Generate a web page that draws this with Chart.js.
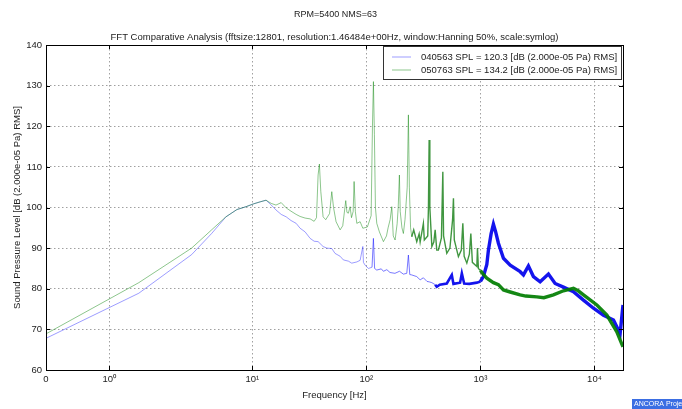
<!DOCTYPE html>
<html>
<head>
<meta charset="utf-8">
<script src="https://cdn.jsdelivr.net/npm/chart.js@4/dist/chart.umd.min.js"></script>
<style>
  html, body { margin: 0; padding: 0; background: #fff; }
  #wrap { width: 682px; height: 409px; position: relative; }
</style>
</head>
<body>
<div id="wrap"><canvas id="myChart" width="682" height="409"></canvas></div>
<script>
// chart data
const suptitle = "RPM=5400 NMS=63"
const subtitle = "FFT Comparative Analysis (fftsize:12801, resolution:1.46484e+00Hz, window:Hanning 50%, scale:symlog)"
const xTicks = [0, 1, 10, 100, 1000, 10000]
const xTickLabels = ["0", "10⁰", "10¹", "10²", "10³", "10⁴"]

const blueName = "040563 SPL = 120.3 [dB (2.000e-05 Pa) RMS]"
const blueFreq = [
  0, 1.465, 2.93, 4.39, 5.86, 7.32, 8.79, 10.25, 11.72, 13.18,
  14.65, 16.1, 17.9, 19.8, 21.8, 24.2, 26.2, 29.0, 32.1, 34.8,
  37.7, 41.7, 45, 49.7, 53.1, 58.8, 62.8, 69.5, 74.4, 82.4,
  88.1, 93.0, 94.2, 97.4, 104.2, 112, 115.2, 118, 123.3, 135,
  141, 151, 161, 178, 195, 211, 226, 233.5, 240, 250,
  276, 296, 316, 340, 355, 375, 401, 414, 440, 507,
  561, 580, 663, 687, 720, 800, 930, 1000, 1062, 1138,
  1175, 1240, 1300, 1360, 1438, 1592, 1824, 2230, 2384, 2636,
  2916, 3340, 3949, 4519, 5346, 6543, 8010, 9800, 12000, 14690,
  16800, 17800
]
const blueSpl = [
  67.8, 78.9, 88.4, 93.6, 97.7, 99.5, 100.2, 100.9, 101.4, 101.8,
  100.6, 99.4, 98.3, 97.7, 96.8, 96.1, 94.9, 94.0, 92.4, 91.7,
  91.6, 90.4, 90.0, 89.9, 88.7, 88.0, 87.1, 86.8, 86.3, 86.6,
  87.0, 90.4, 86.5, 85.8, 85.0, 85.3, 92.4, 85.0, 84.6, 84.9,
  84.3, 84.7, 84.0, 83.8, 84.3, 83.6, 83.8, 88.3, 83.5, 83.4,
  83.0, 82.2, 82.7, 81.8, 81.7, 81.5, 81.0, 80.5, 81.0, 81.3,
  83.4, 81.2, 81.5, 83.8, 81.3, 81.2, 81.5, 81.8, 83.0, 86.0,
  89.5, 93.5, 95.9, 94.0, 91.2, 87.5, 85.8, 84.2, 83.4, 85.6,
  83.0, 81.7, 83.6, 81.3, 80.4, 79.3, 77.2, 75.2, 73.5, 72.3,
  69.0, 76.0
]

const greenName = "050763 SPL = 134.2 [dB (2.000e-05 Pa) RMS]"
const greenFreq = [
  0, 1.465, 2.93, 4.39, 5.86, 7.32, 8.79, 10.25, 11.72, 13.18,
  14.65, 16.1, 17.9, 19.8, 21.8, 24.2, 26.2, 29.0, 32.1, 34.8,
  36.5, 37.7, 38.7, 39.8, 41.7, 44, 47.5, 49.7, 51.5, 54.2,
  58.8, 62, 65.9, 67.5, 69.5, 71.9, 74, 76.5, 78, 80,
  82.4, 88.1, 93, 102, 110, 113, 115.2, 117.5, 120, 123.3,
  130, 141, 150, 155, 161.4, 167, 172, 178.5, 186, 190,
  194.7, 198, 205, 211, 218, 228, 233.5, 238, 244, 250,
  260, 276.5, 290, 296, 316, 322, 345, 350, 355, 360,
  375, 390, 401, 414, 428, 455, 468, 475, 507, 540,
  570, 580, 590, 641, 680, 701, 720, 760, 800, 824,
  850, 930, 942, 960, 1000, 1062, 1138, 1300, 1438, 1592,
  1824, 2230, 2500, 3124, 3600, 4366, 5346, 6543, 7200, 8010,
  10500, 12850, 15710, 17800
]
const greenSpl = [
  68.9, 81.5, 90.0, 94.5, 97.7, 99.5, 100.2, 100.9, 101.4, 101.8,
  101.0, 100.6, 101.2, 99.9, 99.1, 98.3, 97.8, 97.4, 97.2, 96.6,
  97.5, 108, 110.7, 104, 97.7, 97.0, 98.5, 103.9, 100, 96.5,
  94.5, 95.5, 101.7, 98.8, 98.6, 100.2, 97.5, 99, 106.4, 99,
  96.1, 96.5, 94.9, 95.2, 98, 120, 131, 118, 100, 96.1,
  94, 91.6, 93, 95, 97, 100.2, 93, 92, 96, 100,
  108, 99, 95, 93.6, 97, 105, 122.8, 105, 95, 92.8,
  94.5, 91.6, 93.5, 91.5, 96.1, 92, 93, 100, 116.6, 100,
  90.4, 91.5, 94.5, 89.5, 89.5, 92.5, 108.8, 93, 88.7, 90,
  97, 102.3, 92, 87.9, 89.5, 96.1, 88, 86.3, 88.5, 93.6,
  86.5, 85.5, 90, 85, 84.5, 83.5, 82.6, 81.5, 81, 79.7,
  79.2, 78.5, 78.2, 78, 77.8, 78.5, 79.5, 80.1, 79.5, 78.5,
  76, 73.5, 69.4, 65.7
]

// matplotlib style symlog: linthresh 2, linscale 1, base 10
const LT = 2
const LS = 1 / (1 - 1 / 10)
function symlog(v) {
  const a = Math.abs(v)
  if (a <= LT) return v * LS
  return Math.sign(v) * LT * (LS + Math.log10(a / LT))
}
function symexp(t) {
  const a = Math.abs(t)
  if (a <= LT * LS) return t / LS
  return Math.sign(t) * LT * Math.pow(10, a / LT - LS)
}

class SymlogScale extends Chart.LinearScale {
  static id = "symlog"
  static defaults = Chart.LinearScale.defaults
  buildTicks() {
    return xTicks.map(v => ({ value: v }))
  }
  configure() {
    super.configure()
    this._t0 = symlog(this.min)
    this._t1 = symlog(this.max)
  }
  getPixelForValue(v) {
    return this.getPixelForDecimal((symlog(v) - this._t0) / (this._t1 - this._t0))
  }
  getValueForPixel(p) {
    return symexp(this._t0 + this.getDecimalForPixel(p) * (this._t1 - this._t0))
  }
}
Chart.register(SymlogScale)

const FONT = "'Liberation Sans', Arial, sans-serif"
const TXT = "#222"
const BLUE_LIGHT = "rgba(60,60,255,0.5)"
const GREEN_LIGHT = "rgba(0,128,0,0.45)"

// where the noisy spectrum is dense the line looks thick and solid
function blueColor(c) {
  const f = blueFreq[c.p0DataIndex]
  if (f >= 380) return "rgba(0,0,235,0.92)"
  if (f >= 110) return "rgba(40,40,255,0.62)"
  return BLUE_LIGHT
}
function blueWidth(c) {
  const f = blueFreq[c.p0DataIndex]
  if (f >= 1000) return 3.4
  if (f >= 380) return 2.6
  return 1
}
function greenColor(c) {
  const f = greenFreq[c.p0DataIndex]
  if (f >= 1000) return "rgba(0,125,0,0.92)"
  if (f >= 250) return "rgba(0,115,0,0.75)"
  return GREEN_LIGHT
}
function greenWidth(c) {
  const f = greenFreq[c.p0DataIndex]
  if (f >= 1000) return 3.4
  if (f >= 250) return 1.4
  return 1
}

const frame = {
  id: "frame",
  afterDatasetsDraw(chart) {
    const { ctx, chartArea: a, scales } = chart
    ctx.save()
    ctx.strokeStyle = "#000"
    ctx.lineWidth = 1
    // inward ticks on all four sides
    ctx.beginPath()
    scales.x.ticks.forEach((t, i) => {
      const x = Math.round(scales.x.getPixelForTick(i)) + 0.5
      ctx.moveTo(x, a.bottom); ctx.lineTo(x, a.bottom - 4)
      ctx.moveTo(x, a.top); ctx.lineTo(x, a.top + 4)
    })
    scales.y.ticks.forEach((t, i) => {
      const y = Math.round(scales.y.getPixelForTick(i)) + 0.5
      ctx.moveTo(a.left, y); ctx.lineTo(a.left + 4, y)
      ctx.moveTo(a.right, y); ctx.lineTo(a.right - 4, y)
    })
    ctx.stroke()
    ctx.strokeRect(Math.round(a.left) + 0.5, Math.round(a.top) + 0.5,
      Math.round(a.right - a.left), Math.round(a.bottom - a.top))

    // titles, centred over the axes like matplotlib does
    const cx = (a.left + a.right) / 2
    ctx.fillStyle = TXT
    ctx.textAlign = "center"
    ctx.textBaseline = "middle"
    ctx.font = "9px " + FONT
    ctx.fillText(suptitle, cx + 1, 15)
    ctx.font = "9.5px " + FONT
    ctx.fillText(subtitle, cx, 37)

    // legend box, upper right inside the axes
    const lx = 383, ly = a.top + 1, lw = 238, lh = 33
    ctx.fillStyle = "#fff"
    ctx.fillRect(lx, ly, lw, lh)
    ctx.strokeStyle = "#333"
    ctx.strokeRect(lx + 0.5, ly + 0.5, lw, lh)
    const rows = [[blueName, BLUE_LIGHT], [greenName, GREEN_LIGHT]]
    ctx.textAlign = "left"
    rows.forEach((r, i) => {
      const y = ly + 11 + i * 13
      ctx.strokeStyle = r[1]
      ctx.beginPath()
      ctx.moveTo(lx + 9, y); ctx.lineTo(lx + 28, y)
      ctx.stroke()
      ctx.fillStyle = TXT
      ctx.fillText(r[0], lx + 38, y)
    })

    // little watermark tag in the corner
    ctx.fillStyle = "#3b6ee3"
    ctx.fillRect(632, 399, 50, 10)
    ctx.fillStyle = "#fff"
    ctx.font = "7px " + FONT
    ctx.fillText("ANCORA Project", 634, 404.5)
    ctx.restore()
  }
}

const chart = new Chart(document.getElementById("myChart"), {
  type: "line",
  data: {
    datasets: [
      {
        label: blueName,
        data: blueFreq.map((f, i) => ({ x: f, y: blueSpl[i] })),
        borderColor: BLUE_LIGHT,
        borderWidth: 1,
        pointRadius: 0,
        tension: 0,
        order: 1,
        segment: { borderColor: blueColor, borderWidth: blueWidth }
      },
      {
        label: greenName,
        data: greenFreq.map((f, i) => ({ x: f, y: greenSpl[i] })),
        borderColor: GREEN_LIGHT,
        borderWidth: 1,
        pointRadius: 0,
        tension: 0,
        order: 0,
        segment: { borderColor: greenColor, borderWidth: greenWidth }
      }
    ]
  },
  options: {
    responsive: false,
    animation: false,
    events: [],
    layout: { padding: { left: 0, right: 59, top: 45, bottom: 0 } },
    plugins: {
      legend: { display: false },
      tooltip: { enabled: false }
    },
    scales: {
      x: {
        type: "symlog",
        min: 0,
        max: 17800,
        afterFit(s) { s.height = 39 },
        border: { display: false, dash: [1.5, 2.5] },
        grid: { color: "#a0a0a0", lineWidth: 1, drawTicks: false },
        ticks: {
          padding: 4,
          color: TXT,
          font: { family: FONT, size: 9.5 },
          maxRotation: 0,
          autoSkip: false,
          callback: (v, i) => xTickLabels[i]
        },
        title: {
          display: true,
          text: "Frequency [Hz]",
          color: TXT,
          font: { family: FONT, size: 9.5 },
          padding: { top: 0, bottom: 8 }
        }
      },
      y: {
        min: 60,
        max: 140,
        afterFit(s) { s.width = 46 },
        border: { display: false, dash: [1.5, 2.5] },
        grid: { color: "#a0a0a0", lineWidth: 1, drawTicks: false },
        ticks: {
          stepSize: 10,
          padding: 4,
          color: TXT,
          font: { family: FONT, size: 9.5 }
        },
        title: {
          display: true,
          text: "Sound Pressure Level [dB (2.000e-05 Pa) RMS]",
          color: TXT,
          font: { family: FONT, size: 9.5 },
          padding: { top: 11.3, bottom: 0 }
        }
      }
    }
  },
  plugins: [frame]
})
</script>
</body>
</html>
